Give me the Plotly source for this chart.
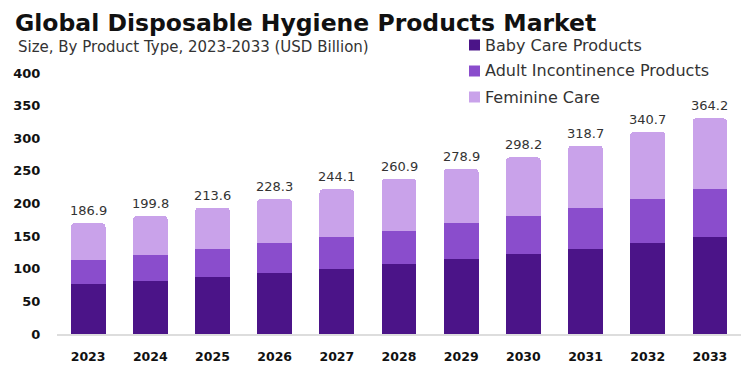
import plotly.graph_objects as go

years = ["2023", "2024", "2025", "2026", "2027", "2028", "2029", "2030", "2031", "2032", "2033"]
baby_care = [76.6, 81.7, 86.8, 93.0, 99.6, 106.8, 115.0, 122.1, 130.8, 139.5, 149.2]
adult_incontinence = [36.8, 39.3, 42.9, 46.0, 48.6, 51.5, 54.6, 59.2, 62.8, 67.4, 72.5]
feminine_care = [56.2, 59.8, 63.9, 67.9, 73.5, 79.2, 83.8, 89.5, 95.0, 103.1, 108.8]
total_labels = ["186.9", "199.8", "213.6", "228.3", "244.1", "260.9", "278.9", "298.2", "318.7", "340.7", "364.2"]

colors = ["#4b1488", "#8a4dcc", "#c9a2ea"]
names = ["Baby Care Products", "Adult Incontinence Products", "Feminine Care"]
series = [baby_care, adult_incontinence, feminine_care]

# the page body has an 8px default margin, so the figure is drawn offset by 8px
OFF = 8
W, H = 756 - OFF, 372 - OFF
L, R, T, B = 57 - OFF, 15, 73 - OFF, 38
PW, PH = W - L - R, H - T - B

def px(x):  # reference window pixel -> paper x
    return (x - OFF - L) / PW

def py(y):  # reference window pixel -> paper y
    return (H - B - (y - OFF)) / PH

FONT = "DejaVu Sans, sans-serif"

fig = go.Figure()
for name, vals, c in zip(names, series, colors):
    fig.add_trace(go.Bar(x=years, y=vals, name=name, marker=dict(color=c, line=dict(width=0)),
                         width=0.56, showlegend=False))

stack_tops = [a + b + c for a, b, c in zip(baby_care, adult_incontinence, feminine_care)]
annotations = []
for i, (top, lab) in enumerate(zip(stack_tops, total_labels)):
    annotations.append(dict(xref="x", yref="y", x=i, y=top, text=lab, showarrow=False,
                            yanchor="bottom", yshift=3,
                            font=dict(family=FONT, size=13, color="#333333")))

# title & subtitle
annotations.append(dict(xref="paper", yref="paper", x=px(14), y=py(OFF), xanchor="left", yanchor="top",
                        text="<b>Global Disposable Hygiene Products Market</b>", showarrow=False,
                        borderpad=0,
                        font=dict(family=FONT, size=23.5, color="#111111")))
annotations.append(dict(xref="paper", yref="paper", x=px(16), y=py(47), xanchor="left", yanchor="middle",
                        text="Size, By Product Type, 2023-2033 (USD Billion)", showarrow=False,
                        font=dict(family=FONT, size=15, color="#333333")))

# legend (manual)
shapes = []
leg_y = [45, 71, 97]
for name, c, yy in zip(names, colors, leg_y):
    shapes.append(dict(type="rect", xref="paper", yref="paper", x0=px(469), x1=px(480),
                       y0=py(yy + 5.5), y1=py(yy - 5.5), fillcolor=c, line=dict(width=0)))
    annotations.append(dict(xref="paper", yref="paper", x=px(483), y=py(yy), xanchor="left", yanchor="middle",
                            text=name, showarrow=False, font=dict(family=FONT, size=16, color="#333333")))

fig.update_layout(
    width=W, height=H,
    margin=dict(l=L, r=R, t=T, b=B, autoexpand=False),
    paper_bgcolor="white", plot_bgcolor="white",
    barmode="stack", barcornerradius=4,
    showlegend=False,
    annotations=annotations, shapes=shapes,
    font=dict(family=FONT),
)

fig.update_xaxes(type="category", showgrid=False, showline=True, linecolor="#dddddd", linewidth=1.5,
                 ticks="outside", ticklen=10, tickcolor="rgba(0,0,0,0)",
                 tickfont=dict(family=FONT, size=12.5, color="#111111", weight="bold"),
                 range=[-0.5, 10.5])
fig.update_yaxes(range=[0, 400], dtick=50, showgrid=False, zeroline=False, showline=False,
                 ticks="outside", ticklen=13, tickcolor="rgba(0,0,0,0)",
                 tickfont=dict(family=FONT, size=13, color="#111111", weight="bold"))

fig.write_html("out.html")
